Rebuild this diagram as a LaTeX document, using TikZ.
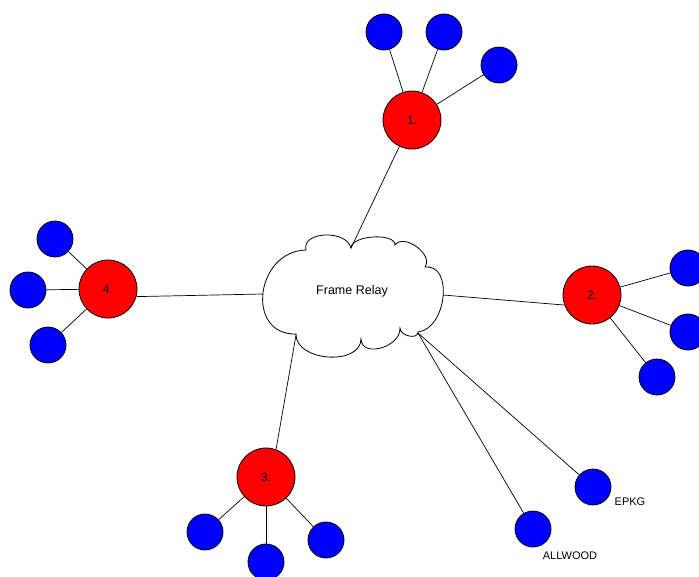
\documentclass[tikz,border=0pt]{standalone}
\usepackage{fontspec}
\setmainfont{Liberation Sans}
\begin{document}
\begin{tikzpicture}[x=1pt,y=-1pt,
  site/.style={circle,draw=black,line width=0.8pt,fill=red,minimum size=58pt,inner sep=0pt,font=\fontsize{12}{14}\selectfont},
  host/.style={circle,draw=black,line width=0.8pt,fill=blue,minimum size=36pt,inner sep=0pt},
  link/.style={line width=0.7pt,draw=black},
  tag/.style={font=\fontsize{11}{13}\selectfont,inner sep=0pt}]
\clip (0,0) rectangle (699,576);

% Frame Relay cloud
\draw[line width=0.8pt,fill=white]
  (306,250) .. controls (301.3,231.3) and (346.3,229.3) .. (351,248)
  .. controls (351,235.3) and (395,232.3) .. (395,245)
  .. controls (403.9,232.7) and (433.9,254.7) .. (425,267)
  .. controls (453.7,263.7) and (446.7,328.7) .. (418,332)
  .. controls (418,340) and (400,336) .. (400,328)
  .. controls (400.7,347.3) and (361.7,358.3) .. (361,339)
  .. controls (360.3,366.3) and (295.3,361.3) .. (296,334)
  .. controls (245.3,335.3) and (255.3,251.3) .. cycle;
\node[font=\fontsize{12.5}{14}\selectfont] (frame) at (352,291) {Frame Relay};
\coordinate (fr-n) at (351,248);
\coordinate (fr-w) at (263,294);
\coordinate (fr-e) at (443,295);
\coordinate (fr-sw) at (296,335);
\coordinate (fr-se) at (418,333);

% sites
\node[site] (s1) at (412,120) {1.};
\node[site] (s2) at (592,295) {2.};
\node[site] (s3) at (266,477) {3.};
\node[site] (s4) at (108,289) {4.};

% hosts
\node[host] (h1a) at (384,32) {};
\node[host] (h1b) at (444,32) {};
\node[host] (h1c) at (499,65) {};
\node[host] (h2a) at (688,268) {};
\node[host] (h2b) at (688,332) {};
\node[host] (h2c) at (657,377) {};
\node[host] (h3a) at (205,532) {};
\node[host] (h3b) at (266,562) {};
\node[host] (h3c) at (326,540) {};
\node[host] (h4a) at (55,239) {};
\node[host] (h4b) at (28,290) {};
\node[host] (h4c) at (48,345) {};
\node[host] (epkg) at (593,487) {};
\node[host] (allwood) at (533,529) {};

\node[tag] (epkg-lbl) at (630,502) {EPKG};
\node[tag] (allwood-lbl) at (570,556) {ALLWOOD};

% links to the cloud
\draw[link] (fr-n) -- (s1);
\draw[link] (fr-e) -- (s2.200);
\draw[link] (fr-sw) -- (s3.70);
\draw[link] (fr-w) -- (s4.345);
\draw[link] (fr-se) -- (epkg);
\draw[link] (fr-se) -- (allwood);

% links to the hosts
\foreach \s/\h in {s1/h1a,s1/h1b,s1/h1c,s2/h2a,s2/h2b,s2/h2c,s3/h3a,s3/h3b,s3/h3c,s4/h4a,s4/h4b,s4/h4c}
  \draw[link] (\s) -- (\h);
\end{tikzpicture}
\end{document}
